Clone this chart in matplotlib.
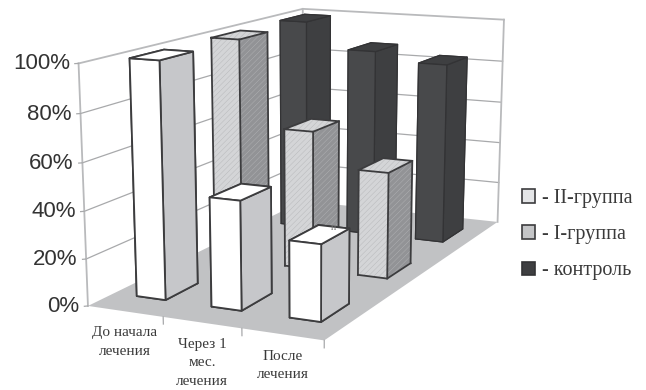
import matplotlib
matplotlib.use('Agg')
import matplotlib.pyplot as plt
from matplotlib.patches import Patch
from mpl_toolkits.mplot3d import proj3d
from mpl_toolkits.mplot3d.art3d import Poly3DCollection

categories = ['До начала\nлечения', 'Через 1\nмес.\nлечения', 'После\nлечения']
series_names = ['- II-группа', '- I-группа', '- контроль']
group2_values = [100, 46, 32]
group1_values = [100, 62, 47]
control_values = [100, 88, 84]
percent_ticks = [0, 20, 40, 60, 80, 100]

BAR_W = 0.39
BAR_D = 0.40
WALL = '#b9babc'
GRID = '#a8a9ab'
EDGE = '#3c3c3e'

plt.rcParams['hatch.linewidth'] = 0.3

# face order in bar3d: bottom, top, -y, +y, -x, +x
face_colors = [
    ['#ffffff', '#ffffff', '#ffffff', '#ffffff', '#ffffff', '#c6c7ca'],
    ['#d4d5d7', '#d4d5d7', '#d4d5d7', '#d4d5d7', '#d4d5d7', '#929396'],
    ['#3e3f41', '#3e3f41', '#48494b', '#48494b', '#3e3f41', '#3e3f41'],
]
edge_colors = [EDGE, EDGE, '#333335']
all_values = [group2_values, group1_values, control_values]


def outline_bar(ax, x0, y0, dx, dy, height, zorder):
    # only the edges facing the camera, the hatched bars have no edge of their own
    x1, y1 = x0 + dx, y0 + dy
    ax.plot([x0, x1, x1, x0, x0], [y0, y0, y1, y1, y0], [height] * 5, color=EDGE, lw=1.3, zorder=zorder)
    ax.plot([x0, x1, x1], [y0, y0, y1], [0, 0, 0], color=EDGE, lw=1.3, zorder=zorder)
    for px, py in [(x0, y0), (x1, y0), (x1, y1)]:
        ax.plot([px, px], [py, py], [0, height], color=EDGE, lw=1.3, zorder=zorder)


def label_at(ax, x, y, z, text, **kwargs):
    # flat text placed at a point of the 3d scene
    px, py, _ = proj3d.proj_transform(x, y, z, ax.get_proj())
    ax.text2D(px, py, text, transform=ax.transData, zorder=30, **kwargs)


fig = plt.figure(figsize=(6.46, 3.90), dpi=100)
# square axes, bigger than the figure height; z range goes below the floor
# so the camera looks at the middle of the floor
ax = fig.add_axes([-19.7 / 646, -201.7 / 390, 1, 646 / 390], projection='3d', computed_zorder=False)
ax.set_proj_type('persp', focal_length=0.46)
ax.view_init(elev=15.4, azim=-65)
ax.set_box_aspect((236, 457, 442), zoom=1.0165)
ax.set_xlim(0, 3)
ax.set_ylim(0, 3)
ax.set_zlim(-100, 100)
ax.set_xticks([])
ax.set_yticks([])
ax.set_zticks([])
ax.set_axis_off()

# floor
floor = Poly3DCollection([[(0, 0, 0), (3, 0, 0), (3, 3, 0), (0, 3, 0)]],
                         facecolor='#c1c2c4', edgecolor='none', zorder=1)
ax.add_collection3d(floor)

# gridlines along the two walls
for z in percent_ticks[1:-1]:
    ax.plot([0, 0, 3], [0, 3, 3], [z, z, z], color=GRID, lw=0.9, zorder=2)
ax.plot([0, 0, 3], [0, 3, 3], [100, 100, 100], color=WALL, lw=1.3, zorder=2)
ax.plot([0, 0], [0, 0], [0, 100], color=WALL, lw=1.3, zorder=2)
ax.plot([0, 0], [3, 3], [0, 100], color=WALL, lw=1.3, zorder=2)
ax.plot([3, 3], [3, 3], [0, 100], color=WALL, lw=1.3, zorder=2)

# axis ticks
for z in percent_ticks:
    ax.plot([0, -0.03], [0, -0.015], [z, z], color=GRID, lw=0.9, zorder=2)
    label_at(ax, -0.07, -0.035, z, f'{z}%', ha='right', va='center', fontsize=16,
             family='Liberation Sans', color='#333333')
for i in range(1, 4):
    ax.plot([i, i], [0, 0], [0, -3], color=GRID, lw=0.9, zorder=2)

# bars, furthest first so nearer ones paint over them
order = 3
for s in [2, 1, 0]:
    for c in range(3):
        xpos = c + 0.5 - BAR_W / 2
        ypos = s + 0.5 - BAR_D / 2
        if s == 1:
            ax.bar3d(xpos, ypos, 0, BAR_W, BAR_D, all_values[s][c],
                     color=face_colors[s], edgecolor='#b4b5b7', linewidth=0,
                     hatch='//////', shade=False, zorder=order)
            outline_bar(ax, xpos, ypos, BAR_W, BAR_D, all_values[s][c], order + 1)
        else:
            ax.bar3d(xpos, ypos, 0, BAR_W, BAR_D, all_values[s][c],
                     color=face_colors[s], edgecolor=edge_colors[s],
                     linewidth=1.3 if s < 2 else 0.9, shade=False, zorder=order)
        order += 2

for c, label in enumerate(categories):
    label_at(ax, c + 0.55, -0.05, -5, label, ha='center', va='top', fontsize=11,
             family='Liberation Serif', color='#3a3a3a', linespacing=1.55)

fig.text(333 / 646, 1 - 228 / 390, 'п', fontsize=7, family='Liberation Serif',
         color='#777777', ha='center', va='center')

handles = [
    Patch(facecolor='#e4e5e7', edgecolor=EDGE, linewidth=1.2),
    Patch(facecolor='#c4c5c7', edgecolor=EDGE, linewidth=1.2),
    Patch(facecolor='#3e3f41', edgecolor='#333335', linewidth=1.2),
]
fig.legend(handles, series_names, loc='upper left',
           bbox_to_anchor=(504 / 646, 1 - 171 / 390), frameon=False,
           prop={'family': 'Liberation Serif', 'size': 14.5},
           labelcolor='#3a3a3a', handlelength=0.65, handleheight=0.65,
           handletextpad=0.35, labelspacing=0.85)

fig.savefig('out.png', dpi=100)
